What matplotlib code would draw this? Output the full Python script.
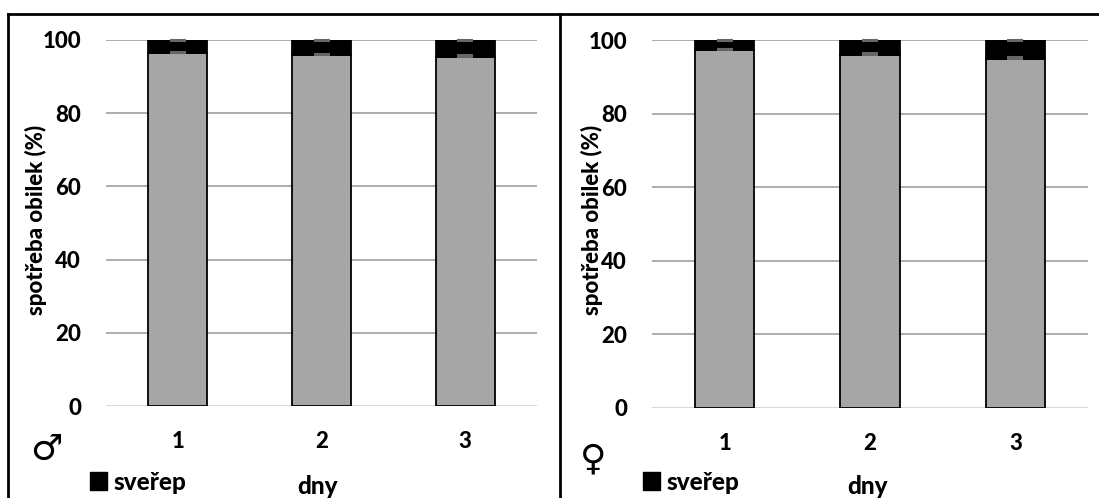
import matplotlib
matplotlib.use("Agg")
import matplotlib.pyplot as plt
from matplotlib.lines import Line2D
from matplotlib.patches import Patch
import numpy as np

days = ["1", "2", "3"]
male_grain = [96.4, 95.8, 95.3]
male_err = [0.3, 0.5, 0.5]
female_grain = [97.4, 96.0, 94.9]
female_err = [0.2, 0.4, 0.4]
yticks = [0, 20, 40, 60, 80, 100]

W, H = 1099, 498
fig = plt.figure(figsize=(W / 100, H / 100), dpi=100)
FONT = ["Lato", "DejaVu Sans"]
plt.rcParams["font.family"] = FONT
WT = 900

GREY = "#a6a6a6"

def panel(rect, grain, err, symbol, ylab_x, sym_x, sym_y, leg_x, dny_x):
    ax = fig.add_axes(rect)
    x = np.arange(len(days))
    black = [100 - g for g in grain]
    ax.bar(x, grain, width=0.41, color=GREY, edgecolor="black", linewidth=1.3, zorder=3)
    ax.bar(x, black, bottom=grain, width=0.41, color="black", edgecolor="black",
           linewidth=1.3, zorder=3)
    ax.errorbar(x, grain, yerr=[[0] * 3, err], fmt="none", ecolor="#666666",
                elinewidth=1, capsize=6, capthick=1.5, zorder=4, clip_on=False)
    ax.errorbar(x, [100] * 3, yerr=[[0.2] * 3, [0] * 3], fmt="none", ecolor="#666666",
                elinewidth=1, capsize=6, capthick=1.5, zorder=4, clip_on=False)
    ax.set_ylim(0, 100)
    ax.set_xlim(-0.5, 2.5)
    ax.set_yticks(yticks)
    ax.set_yticklabels([str(t) for t in yticks], fontsize=16, fontweight=WT)
    ax.set_xticks(x)
    ax.set_xticklabels(days, fontsize=16, fontweight=WT)
    ax.tick_params(length=0, pad=18, axis="y")
    ax.tick_params(length=0, pad=18, axis="x")
    for s in ax.spines.values():
        s.set_visible(False)
    ax.grid(axis="y", color="#a0a0a0", linewidth=1.2, zorder=0)
    ax.set_axisbelow(True)
    ax.axhline(0, color="#d9d9d9", linewidth=1.5, zorder=2)
    fig.text(ylab_x / W, 1 - 220 / H, "spotřeba obilek (%)", rotation=90,
             fontsize=16, fontweight=WT, ha="center", va="center")
    fig.text(dny_x / W, 1 - 486 / H, "dny", fontsize=17.5, fontweight=WT,
             ha="center", va="center")
    fig.text(sym_x / W, 1 - sym_y / H, symbol, fontsize=26, fontweight="bold",
             ha="center", va="center", family=["DejaVu Sans"])
    fig.legend(handles=[Patch(facecolor="black", edgecolor="black")],
               labels=["sveřep"], loc="center left",
               bbox_to_anchor=(leg_x / W, 1 - 482 / H), frameon=False,
               prop={"size": 17.5, "weight": WT, "family": FONT},
               handlelength=0.7, handleheight=0.7, handletextpad=0.25,
               borderpad=0, borderaxespad=0)
    return ax

panel([106 / W, 1 - 406 / H, (537 - 106) / W, 366 / H], male_grain, male_err,
      "♂", 36, 46, 450, 90, 318)
panel([652 / W, 1 - 408 / H, (1088 - 652) / W, 368 / H], female_grain, female_err,
      "♀", 592, 593, 459, 643, 868)

# borders
def fline(xs, ys, lw=2):
    fig.add_artist(Line2D([v / W for v in xs], [1 - v / H for v in ys],
                          color="black", linewidth=lw, transform=fig.transFigure))

fline([8, 1099], [14, 14])
fline([8, 8], [14, 498])
fline([560, 560], [14, 498])

fig.savefig("out.png", dpi=100)
